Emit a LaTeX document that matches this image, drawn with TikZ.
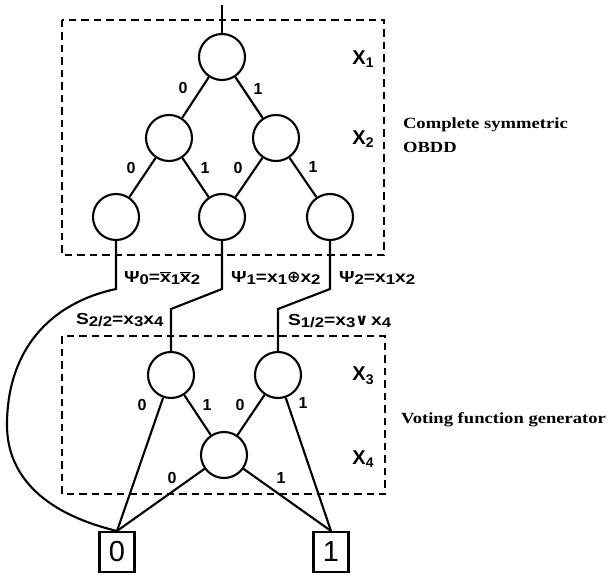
\documentclass[tikz,border=0pt]{standalone}
\usepackage{fontspec}
\setmainfont{Liberation Sans}
\newfontfamily\widesans[FakeStretch=1.2]{Liberation Sans}
\newfontfamily\serifb[FakeStretch=1.2]{Liberation Serif}
\newfontfamily\dejavu{DejaVu Sans}
\newcommand\sbs[1]{\raisebox{-0.3ex}{\fontsize{14}{14}\selectfont #1}}
\newcommand\xsb[1]{\raisebox{-0.35ex}{\fontsize{14}{14}\selectfont #1}}
\newcommand\ob[1]{$\overline{\hbox{#1}}$}
\begin{document}
\begin{tikzpicture}[x=1pt,y=-1pt,line width=2.1pt,
  bnode/.style={circle,draw,line width=2.1pt,minimum size=46pt,inner sep=0pt},
  term/.style={rectangle,draw,line width=2.1pt,minimum width=35pt,minimum height=40pt,inner sep=0pt,font=\fontsize{29}{29}\selectfont},
  el/.style={font=\bfseries\fontsize{16}{16}\selectfont,inner sep=0pt},
  vl/.style={font=\bfseries\fontsize{20}{20}\selectfont,inner sep=0pt},
  fl/.style={font=\widesans\bfseries\fontsize{16}{16}\selectfont,inner sep=0pt,anchor=west},
  dl/.style={font=\serifb\bfseries\fontsize{15.5}{15.5}\selectfont,inner sep=0pt,anchor=west},
  dbox/.style={draw,line width=1.8pt,dash pattern=on 7.5pt off 5pt}]
\useasboundingbox (0,0) rectangle (608,575);
% dashed frames
\draw[dbox] (62,20) rectangle (384,255);
\draw[dbox] (62,336) rectangle (385,494);
% nodes
\node[bnode] (r) at (222,57) {};
\node[bnode] (a) at (169,138) {};
\node[bnode] (b) at (276,138) {};
\node[bnode] (l0) at (116,217) {};
\node[bnode] (l1) at (222,217) {};
\node[bnode] (l2) at (330,217) {};
\node[bnode] (c) at (171,375) {};
\node[bnode] (d) at (278,375) {};
\node[bnode] (e) at (224,455) {};
\node[term] (t0) at (117,552) {0};
\node[term] (t1) at (331,552) {1};
% connectors
\coordinate (in) at (222,5);
\draw (in) -- (r);
\draw (r) -- (a);
\draw (r) -- (b);
\draw (a) -- (l0);
\draw (a) -- (l1);
\draw (b) -- (l1);
\draw (b) -- (l2);
\draw (c) -- (t0.north);
\draw (c) -- (e);
\draw (d) -- (e);
\draw (d) -- (t1.north);
\draw (e) -- (t0.north);
\draw (e) -- (t1.north);
\coordinate (p0) at (116,289);
\coordinate (p1) at (222,289);
\coordinate (q1) at (171,309);
\coordinate (p2) at (330,289);
\coordinate (q2) at (278,309);
\draw (l0) -- (p0) .. controls (50,303) and (7,350) .. (7,425) .. controls (7,480) and (50,515) .. (t0.north);
\draw (l1) -- (p1) -- (q1) -- (c);
\draw (l2) -- (p2) -- (q2) -- (d);
% edge labels
\node[el] (e1) at (183,88) {0};
\node[el] (e2) at (258,89) {1};
\node[el] (e3) at (131,168) {0};
\node[el] (e4) at (205,168) {1};
\node[el] (e5) at (238,168) {0};
\node[el] (e6) at (313,167) {1};
\node[el] (e7) at (142,405) {0};
\node[el] (e8) at (207,405) {1};
\node[el] (e9) at (240,405) {0};
\node[el] (e10) at (303,403) {1};
\node[el] (e11) at (172,478) {0};
\node[el] (e12) at (281,478) {1};
% level labels
\node[vl] (v1) at (363,59) {X\xsb{1}};
\node[vl] (v2) at (363,139) {X\xsb{2}};
\node[vl] (v3) at (363,376) {X\xsb{3}};
\node[vl] (v4) at (363,459) {X\xsb{4}};
% function labels
\node[fl] (f0) at (123,278) {Ψ\sbs{0}=\ob{x}\sbs{1}\ob{x}\sbs{2}};
\node[fl] (f1) at (230,278) {Ψ\sbs{1}=x\sbs{1}{\dejavu\bfseries ⊕}x\sbs{2}};
\node[fl] (f2) at (338,278) {Ψ\sbs{2}=x\sbs{1}x\sbs{2}};
\node[fl] (s0) at (75,320) {S\sbs{2/2}=x\sbs{3}x\sbs{4}};
\node[fl] (s1) at (287,321) {S\sbs{1/2}=x\sbs{3}{\dejavu\bfseries ∨}\,x\sbs{4}};
% descriptions
\node[dl] (d1) at (402,125) {Complete symmetric};
\node[dl] (d2) at (402,147) {OBDD};
\node[dl] (d3) at (400,420) {Voting function generator};
\end{tikzpicture}
\end{document}
